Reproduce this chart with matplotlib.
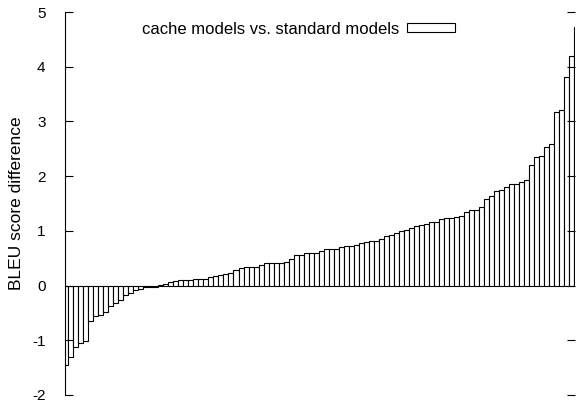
import numpy as np
import matplotlib
matplotlib.use("Agg")
import matplotlib.pyplot as plt

plt.rcParams['font.family'] = ['Liberation Sans', 'DejaVu Sans']
plt.rcParams['axes.unicode_minus'] = False

# BLEU difference per test set, sorted (first and last bars are cut by the x range)
bleu_diff = [
    -1.45, -1.30, -1.12, -1.05, -1.01, -0.64, -0.55, -0.54, -0.49, -0.37,
    -0.32, -0.26, -0.18, -0.14, -0.09, -0.06, -0.03, -0.03, -0.02, 0.01,
    0.03, 0.06, 0.09, 0.10, 0.10, 0.10, 0.12, 0.12, 0.12, 0.15,
    0.18, 0.20, 0.21, 0.23, 0.29, 0.32, 0.34, 0.34, 0.34, 0.38,
    0.41, 0.41, 0.41, 0.41, 0.43, 0.49, 0.55, 0.55, 0.59, 0.60,
    0.60, 0.63, 0.66, 0.66, 0.66, 0.70, 0.72, 0.73, 0.74, 0.78,
    0.80, 0.81, 0.81, 0.85, 0.90, 0.92, 0.96, 0.99, 1.01, 1.05,
    1.08, 1.10, 1.13, 1.16, 1.17, 1.22, 1.24, 1.24, 1.25, 1.28,
    1.35, 1.39, 1.39, 1.44, 1.59, 1.63, 1.72, 1.75, 1.81, 1.85,
    1.85, 1.89, 1.93, 2.21, 2.35, 2.37, 2.54, 2.58, 3.17, 3.21,
    3.81, 4.19, 4.72,
]
yticks = [-2, -1, 0, 1, 2, 3, 4, 5]
label = "cache models vs. standard models"

fig = plt.figure(figsize=(5.76, 4.05), dpi=100)
ax = fig.add_axes([65 / 576, 10 / 405, 510 / 576, 383 / 405])

x = np.arange(len(bleu_diff))
ax.bar(x, bleu_diff, width=1.0, color='white', edgecolor='black',
       linewidth=0.8, label=label)

ax.set_xlim(-0.1, len(bleu_diff) - 1.4)
ax.set_ylim(-2, 5)
ax.set_yticks(yticks)
ax.set_xticks([])

for s in ['top', 'bottom', 'right']:
    ax.spines[s].set_visible(False)
ax.spines['left'].set_linewidth(0.8)

ax.yaxis.set_ticks_position('both')
ax.tick_params(axis='y', direction='in', length=6, width=0.8,
               labelsize=11, pad=14)

fig.text(17 / 576, 0.4975, "BLEU score difference", rotation=90,
         ha='center', va='center', fontsize=12.5)

ax.legend(loc='center right', bbox_to_anchor=(0.765, 0.9556), frameon=False,
          markerfirst=False, fontsize=12, handlelength=2.9, handleheight=0.45,
          handletextpad=0.45, borderpad=0, borderaxespad=0)

fig.savefig("out.png", dpi=100)
